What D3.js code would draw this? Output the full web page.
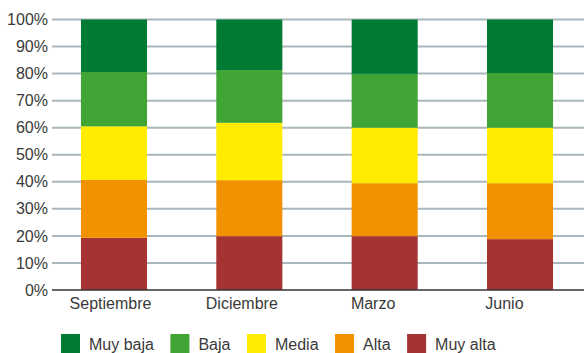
<!DOCTYPE html>
<html>
<head>
<meta charset="utf-8">
<script src="https://cdn.jsdelivr.net/npm/d3@7"></script>
<style>
  html, body { margin: 0; padding: 0; background: #fff; }
  svg { display: block; font-family: "Liberation Sans", Arial, Helvetica, sans-serif; }
</style>
</head>
<body>
<svg id="chart" width="584" height="353"></svg>
<script>
// Periods on the x axis
const categories = ["Septiembre", "Diciembre", "Marzo", "Junio"];
// Stack levels, bottom to top
const levels = ["Muy alta", "Alta", "Media", "Baja", "Muy baja"];
// Share (%) of each level per period
const muyAlta = [19.3, 19.9, 19.9, 18.8];
const alta    = [21.4, 20.7, 19.6, 20.7];
const media   = [19.8, 21.2, 20.5, 20.5];
const baja    = [20.1, 19.5, 19.9, 20.2];
const muyBaja = [19.4, 18.7, 20.1, 19.8];
const yTicks = [0, 10, 20, 30, 40, 50, 60, 70, 80, 90, 100];
// Legend order (left to right)
const legendOrder = ["Muy baja", "Baja", "Media", "Alta", "Muy alta"];

const colors = {
  "Muy baja": "#007b34",
  "Baja": "#41a535",
  "Media": "#ffec00",
  "Alta": "#f39200",
  "Muy alta": "#a53331"
};

const series = {
  "Muy alta": muyAlta, "Alta": alta, "Media": media, "Baja": baja, "Muy baja": muyBaja
};
const table = categories.map((c, i) => {
  const row = { cat: c };
  levels.forEach(l => row[l] = series[l][i]);
  return row;
});

const svg = d3.select("#chart");
const W = 584;
const plotLeft = 52, plotTop = 19.5, plotBottom = 290;

const x = d3.scaleBand().domain(categories)
  .range([plotLeft, 582]).paddingInner(0.512).paddingOuter(0.214);
// labels sit on a slightly tighter spacing than the bars
const xLabel = d3.scaleBand().domain(categories).range([44.8, 570.1]);
const y = d3.scaleLinear().domain([0, 100]).range([plotBottom, plotTop]);

// gridlines
svg.append("g").selectAll("line").data(yTicks.filter(t => t > 0)).join("line")
  .attr("x1", plotLeft).attr("x2", W)
  .attr("y1", d => y(d)).attr("y2", d => y(d))
  .attr("stroke", "#a9b6bc").attr("stroke-width", 2);

// stacked bars
const stacked = d3.stack().keys(levels)(table);
svg.append("g").selectAll("g").data(stacked).join("g")
  .attr("fill", d => colors[d.key])
  .selectAll("rect").data(d => d).join("rect")
  .attr("x", d => x(d.data.cat))
  .attr("width", x.bandwidth())
  .attr("y", d => y(d[1]))
  .attr("height", d => y(d[0]) - y(d[1]));

// baseline
svg.append("line")
  .attr("x1", plotLeft).attr("x2", W)
  .attr("y1", y(0)).attr("y2", y(0))
  .attr("stroke", "#333").attr("stroke-width", 1.6);

// y axis labels
const yAxis = d3.axisLeft(y).tickValues(yTicks).tickFormat(d => d + "%").tickSize(0).tickPadding(0);
const gy = svg.append("g").attr("transform", "translate(48,0)").call(yAxis);
gy.select(".domain").remove();
gy.selectAll("text").attr("font-size", 16).attr("fill", "#3a3a3a")
  .attr("font-family", "\"Liberation Sans\", Arial, sans-serif");

// x axis labels
const xAxis = d3.axisBottom(xLabel).tickSize(0).tickPadding(0);
const gx = svg.append("g").attr("transform", "translate(0,298)").call(xAxis);
gx.select(".domain").remove();
gx.selectAll("text").attr("font-size", 16).attr("fill", "#3a3a3a")
  .attr("font-family", "\"Liberation Sans\", Arial, sans-serif");

// legend
const legend = svg.append("g").attr("transform", "translate(61,334)");
let lx = 0;
legendOrder.forEach(name => {
  const g = legend.append("g").attr("transform", `translate(${lx},0)`);
  g.append("rect").attr("width", 19).attr("height", 19).attr("fill", colors[name]);
  const t = g.append("text").attr("x", 28).attr("y", 16)
    .attr("font-size", 16).attr("fill", "#3a3a3a").text(name);
  lx += 28 + t.node().getComputedTextLength() + 16.5;
});
</script>
</body>
</html>
